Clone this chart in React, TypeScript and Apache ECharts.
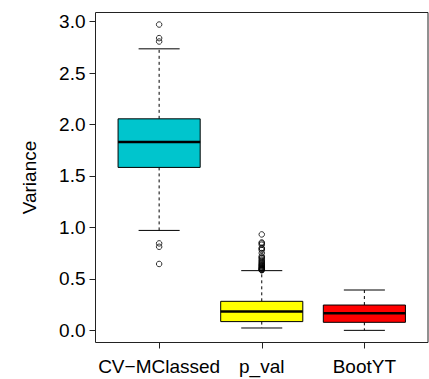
import React, { useEffect, useRef } from "react";
import * as echarts from "echarts";

const categories = ["CV\u2212MClassed", "p_val", "BootYT"];
const boxColors = ["#00C5CD", "#FFFF00", "#FF0000"];
// [lowerWhisker, Q1, median, Q3, upperWhisker]
const boxStats = [
  [0.971, 1.583, 1.829, 2.055, 2.735],
  [0.023, 0.085, 0.184, 0.282, 0.580],
  [0.0, 0.078, 0.165, 0.246, 0.392],
];
const outliersCV = [2.971, 2.839, 2.806, 0.845, 0.812, 0.645];
const outliersPval = [
  0.932, 0.854, 0.845, 0.832, 0.80, 0.793, 0.78, 0.751, 0.72, 0.709, 0.70, 0.686,
  0.675, 0.664, 0.655, 0.645, 0.638, 0.63, 0.625, 0.616, 0.61, 0.605, 0.60, 0.595,
  0.59, 0.587, 0.584,
];
const outliersBoot: number[] = [];
const yTicks = [0, 0.5, 1, 1.5, 2, 2.5, 3];
const yMin = -0.118;
const yMax = 3.088;
const xMin = 0.38;
const xMax = 3.62;

export default function App() {
  const ref = useRef<HTMLDivElement>(null);
  useEffect(() => {
    if (!ref.current) return;
    const chart = echarts.init(ref.current, null, { renderer: "svg" });
    const boxData = boxStats.map((s, i) => [i + 1, ...s]);
    const outlierData: number[][] = [];
    [outliersCV, outliersPval, outliersBoot].forEach((arr, i) =>
      arr.forEach((v) => outlierData.push([i + 1, v]))
    );
    const font = "'Liberation Sans', Arial, Helvetica, sans-serif";
    chart.setOption({
      animation: false,
      textStyle: { fontFamily: font },
      grid: {
        left: 95.5,
        right: 1,
        top: 12.5,
        bottom: 36.5,
        show: true,
        borderColor: "#222",
        borderWidth: 1,
        backgroundColor: "transparent",
      },
      xAxis: {
        type: "value",
        min: xMin,
        max: xMax,
        axisLine: { show: false, onZero: false },
        splitLine: { show: false },
        axisTick: {
          show: true,
          customValues: [1, 2, 3],
          length: 6,
          lineStyle: { color: "#222", width: 1 },
        },
        axisLabel: {
          customValues: [1, 2, 3],
          formatter: (v: number) => categories[Math.round(v) - 1] ?? "",
          fontSize: 19,
          color: "#000",
          fontFamily: font,
          margin: 14,
        },
      },
      yAxis: {
        type: "value",
        min: yMin,
        max: yMax,
        name: "Variance",
        nameLocation: "middle",
        nameGap: 57,
        nameTextStyle: { fontSize: 19, color: "#000", fontFamily: font },
        axisLine: { show: false, onZero: false },
        splitLine: { show: false },
        axisTick: {
          show: true,
          customValues: yTicks,
          length: 6,
          lineStyle: { color: "#222", width: 1 },
        },
        axisLabel: {
          customValues: yTicks,
          formatter: (v: number) => v.toFixed(1),
          fontSize: 19,
          color: "#000",
          fontFamily: font,
          margin: 10,
        },
      },
      series: [
        {
          type: "custom",
          data: boxData,
          encode: { x: 0, y: [1, 2, 3, 4, 5] },
          renderItem: (params: any, api: any) => {
            const x = api.value(0);
            const lo = api.value(1);
            const q1 = api.value(2);
            const med = api.value(3);
            const q3 = api.value(4);
            const hi = api.value(5);
            const w = api.size([0.8, 0])[0];
            const half = w / 2;
            const cap = w / 4;
            const pLo = api.coord([x, lo]);
            const pQ1 = api.coord([x, q1]);
            const pMed = api.coord([x, med]);
            const pQ3 = api.coord([x, q3]);
            const pHi = api.coord([x, hi]);
            const cx = pMed[0];
            const dash = { stroke: "#000", lineWidth: 1, lineDash: [3, 3] };
            const solid = { stroke: "#000", lineWidth: 1 };
            return {
              type: "group",
              children: [
                { type: "line", shape: { x1: cx, y1: pQ3[1], x2: cx, y2: pHi[1] }, style: dash },
                { type: "line", shape: { x1: cx, y1: pQ1[1], x2: cx, y2: pLo[1] }, style: dash },
                { type: "line", shape: { x1: cx - cap, y1: pHi[1], x2: cx + cap, y2: pHi[1] }, style: solid },
                { type: "line", shape: { x1: cx - cap, y1: pLo[1], x2: cx + cap, y2: pLo[1] }, style: solid },
                {
                  type: "rect",
                  shape: { x: cx - half, y: pQ3[1], width: w, height: pQ1[1] - pQ3[1] },
                  style: { fill: boxColors[params.dataIndex], stroke: "#000", lineWidth: 1 },
                },
                {
                  type: "line",
                  shape: { x1: cx - half, y1: pMed[1], x2: cx + half, y2: pMed[1] },
                  style: { stroke: "#000", lineWidth: 2.5 },
                },
              ],
            };
          },
        },
        {
          type: "scatter",
          data: outlierData,
          symbol: "circle",
          symbolSize: 5.5,
          itemStyle: { color: "rgba(255,255,255,0)", borderColor: "#000", borderWidth: 1 },
        },
      ],
    });
    return () => chart.dispose();
  }, []);
  return (
    <div
      ref={ref}
      style={{ position: "fixed", left: 0, top: 0, width: 429, height: 379, background: "#fff" }}
    />
  );
}
